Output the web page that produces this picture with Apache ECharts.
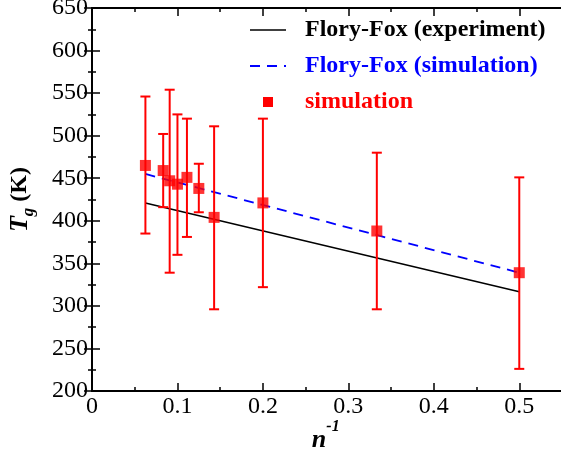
<!DOCTYPE html>
<html><head><meta charset="utf-8">
<script src="https://cdn.jsdelivr.net/npm/echarts@6/dist/echarts.min.js"></script>
<style>html,body{margin:0;padding:0;background:#fff}#c{width:561px;height:452px}</style>
</head><body><div id="c"></div>
<script>
// inverse chain length n^-1
var invN = [0.0625, 0.0833, 0.0909, 0.1, 0.1111, 0.125, 0.1429, 0.2, 0.3333, 0.5];
// simulated Tg (K)
var tgSim = [465, 459, 447, 443, 451, 438, 404, 421, 388, 339];
var errLow = [385, 416, 339, 360, 381, 410, 296, 322, 296, 226];
var errHigh = [546, 502, 554, 525, 520, 467, 511, 520, 480, 451];
// Flory-Fox fits
var fitX = [0.0625, 0.5];
var fitExp = [421, 316.5];
var fitSim = [455, 339];
var xTicks = [0, 0.1, 0.2, 0.3, 0.4, 0.5];
var yTicks = [200, 250, 300, 350, 400, 450, 500, 550, 600, 650];
var legendNames = ['Flory-Fox (experiment)', 'Flory-Fox (simulation)', 'simulation'];

var FONT = '"Liberation Serif", serif';
var chart = echarts.init(document.getElementById('c'));

function axisCommon(extra) {
  var o = {
    axisLine: {show: true, lineStyle: {color: '#000', width: 2}},
    axisTick: {show: true, inside: true, length: 8, lineStyle: {color: '#000', width: 1.5}},
    minorTick: {show: true, splitNumber: 2, length: 4, lineStyle: {color: '#000', width: 1.5}},
    splitLine: {show: false},
    axisLabel: {show: false}
  };
  for (var k in extra) o[k] = extra[k];
  return o;
}

var LX = 250, LW = 36, TX = 305, rows = [30, 66, 102];
var legendFont = 'bold 24px "Liberation Serif", serif';

var option = {
  animation: false,
  backgroundColor: '#fff',
  grid: {left: 92, top: 8, right: -1, bottom: 61, containLabel: false, outerBoundsMode: 'none'},
  xAxis: [
    axisCommon({type: 'value', min: 0, max: 0.55, interval: 0.1, position: 'bottom',
      axisLabel: {show: true, fontFamily: FONT, fontSize: 24, color: '#000', margin: 4, showMaxLabel: false,
        formatter: function (v) { return xTicks.indexOf(Math.round(v * 10) / 10) >= 0 ? String(Math.round(v * 10) / 10) : ''; }}}),
    axisCommon({type: 'value', min: 0, max: 0.55, interval: 0.1, position: 'top'})
  ],
  yAxis: [
    axisCommon({type: 'value', min: 200, max: 650, interval: 50, position: 'left',
      name: '{t|T}{g|g}{k| (K)}', nameLocation: 'middle', nameGap: 55, nameRotate: 90,
      nameTextStyle: {rich: {
        t: {fontFamily: FONT, fontSize: 26, fontWeight: 'bold', fontStyle: 'italic', color: '#000', lineHeight: 34},
        g: {fontFamily: FONT, fontSize: 17, fontWeight: 'bold', fontStyle: 'italic', color: '#000', verticalAlign: 'bottom', lineHeight: 17},
        k: {fontFamily: FONT, fontSize: 24, fontWeight: 'bold', color: '#000', lineHeight: 34}
      }},
      axisLabel: {show: true, fontFamily: FONT, fontSize: 24, color: '#000', margin: 4,
        formatter: function (v) { return yTicks.indexOf(v) >= 0 ? String(v) : ''; }}}),
    axisCommon({type: 'value', min: 200, max: 650, interval: 50, position: 'right'})
  ],
  graphic: [
    {type: 'text', x: 319, y: 440, style: {text: 'n', font: 'italic bold 26px "Liberation Serif", serif', fill: '#000', align: 'center', verticalAlign: 'middle'}},
    {type: 'text', x: 333, y: 427, style: {text: '-1', font: 'italic bold 16px "Liberation Serif", serif', fill: '#000', align: 'center', verticalAlign: 'middle'}},
    // legend
    {type: 'line', shape: {x1: LX, y1: rows[0], x2: LX + LW, y2: rows[0]}, style: {stroke: '#000', lineWidth: 1.5}},
    {type: 'text', x: TX, y: rows[0], style: {text: legendNames[0], font: legendFont, fill: '#000', align: 'left', verticalAlign: 'middle'}},
    {type: 'line', shape: {x1: LX, y1: rows[1], x2: LX + LW, y2: rows[1]}, style: {stroke: '#0000ff', lineWidth: 1.8, lineDash: [10, 7]}},
    {type: 'text', x: TX, y: rows[1], style: {text: legendNames[1], font: legendFont, fill: '#0000ff', align: 'left', verticalAlign: 'middle'}},
    {type: 'rect', shape: {x: LX + LW / 2 - 5, y: rows[2] - 5, width: 10, height: 10}, style: {fill: '#ff0000'}},
    {type: 'text', x: TX, y: rows[2], style: {text: legendNames[2], font: legendFont, fill: '#ff0000', align: 'left', verticalAlign: 'middle'}}
  ],
  series: [
    {name: legendNames[0], type: 'line', symbol: 'none', z: 3,
      lineStyle: {color: '#000', width: 1.5}, itemStyle: {color: '#000'},
      data: fitX.map(function (x, i) { return [x, fitExp[i]]; })},
    {name: legendNames[1], type: 'line', symbol: 'none', z: 3,
      lineStyle: {color: '#0000ff', width: 1.8, type: [10, 7]}, itemStyle: {color: '#0000ff'},
      data: fitX.map(function (x, i) { return [x, fitSim[i]]; })},
    {name: 'errorbars', type: 'custom', z: 4,
      renderItem: function (params, api) {
        var x = api.value(0);
        var lo = api.coord([x, api.value(1)]);
        var hi = api.coord([x, api.value(2)]);
        var hw = 5;
        var st = {stroke: '#ff0000', lineWidth: 2};
        return {type: 'group', children: [
          {type: 'line', shape: {x1: lo[0], y1: lo[1], x2: hi[0], y2: hi[1]}, style: st},
          {type: 'line', shape: {x1: lo[0] - hw, y1: lo[1], x2: lo[0] + hw, y2: lo[1]}, style: st},
          {type: 'line', shape: {x1: hi[0] - hw, y1: hi[1], x2: hi[0] + hw, y2: hi[1]}, style: st}
        ]};
      },
      data: invN.map(function (x, i) { return [x, errLow[i], errHigh[i]]; })},
    {name: legendNames[2], type: 'scatter', symbol: 'rect', symbolSize: 11, z: 5,
      itemStyle: {color: '#ff0000'},
      data: invN.map(function (x, i) { return [x, tgSim[i]]; })}
  ]
};
chart.setOption(option);
</script></body></html>
